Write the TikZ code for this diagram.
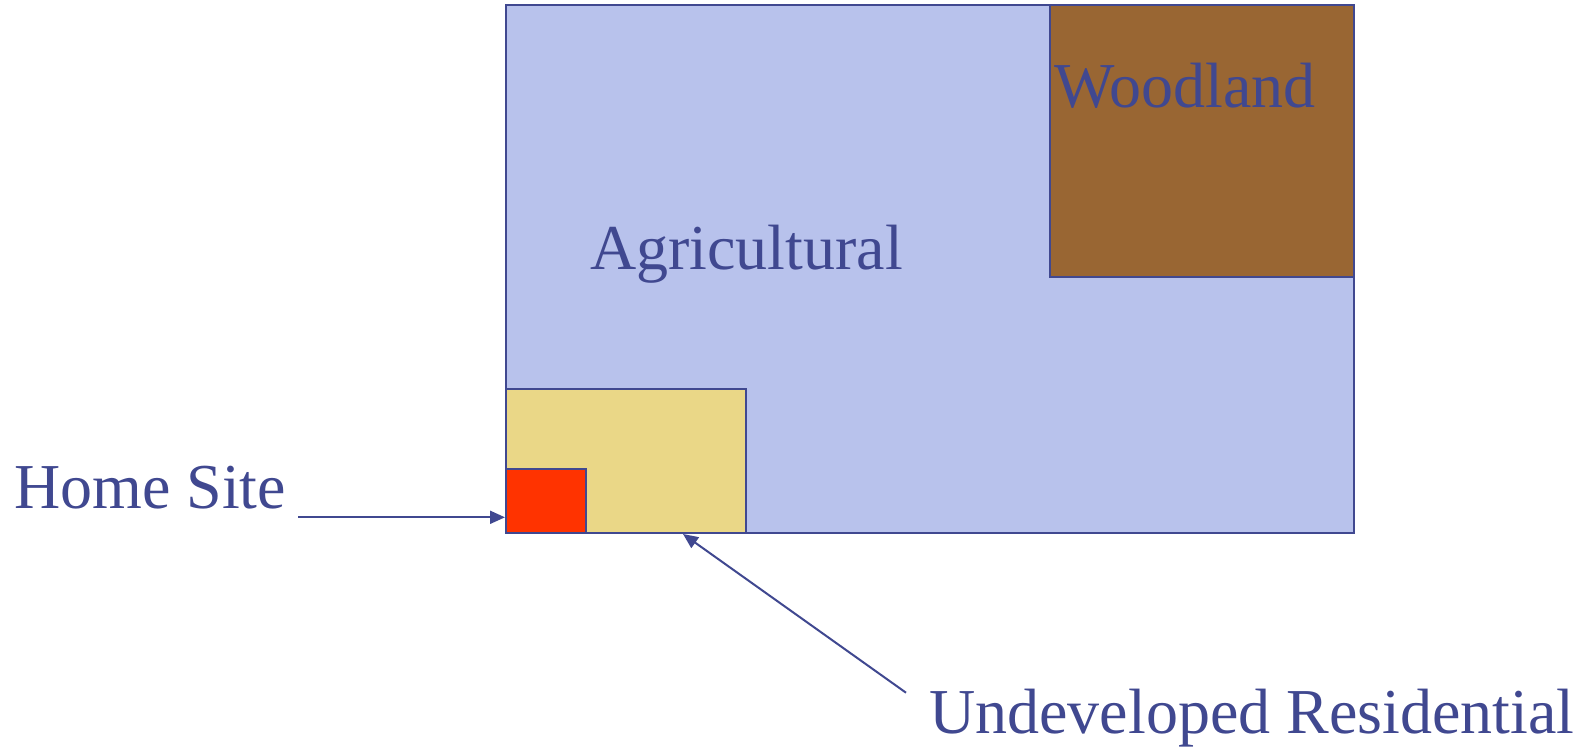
\documentclass[tikz,border=0pt]{standalone}
\usepackage{fontspec}
\setmainfont{Liberation Serif}
\usetikzlibrary{arrows.meta}
\definecolor{ink}{HTML}{404890}
\definecolor{agri}{HTML}{B8C2EC}
\definecolor{wood}{HTML}{996633}
\definecolor{resi}{HTML}{EAD787}
\definecolor{home}{HTML}{FF3300}
\tikzset{
  parcel/.style={draw=ink, line width=2pt},
  lbl/.style={text=ink, font=\fontsize{64}{70}\selectfont, inner sep=0pt, anchor=base west},
  pointer/.style={draw=ink, line width=2pt, -{Triangle[length=15pt,width=13pt]}}
}
\begin{document}
\begin{tikzpicture}[x=1pt,y=-1pt]
\useasboundingbox (0,0) rectangle (1581,749);
\draw[parcel, fill=agri] (505.5,5) rectangle (1353.5,532.5);
\draw[parcel, fill=wood] (1050,5) rectangle (1353.5,276.5);
\draw[parcel, fill=resi] (505.5,389) rectangle (745.5,532.5);
\draw[parcel, fill=home] (505.5,468.5) rectangle (586,532.5);
\node[lbl] (wl) at (1054,108) {Woodland};
\node[lbl] (ag) at (590,269) {Agricultural};
\node[lbl] (hs) at (14,508) {Home Site};
\node[lbl] (ur) at (929,733) {Undeveloped Residential};
\coordinate (hsTail) at (298,517.3);
\coordinate (hsTip) at (505,517.3);
\coordinate (urTail) at (906,692.7);
\coordinate (urTip) at (683,534);
\draw[pointer] (hsTail) -- (hsTip);
\draw[pointer] (urTail) -- (urTip);
\end{tikzpicture}
\end{document}
